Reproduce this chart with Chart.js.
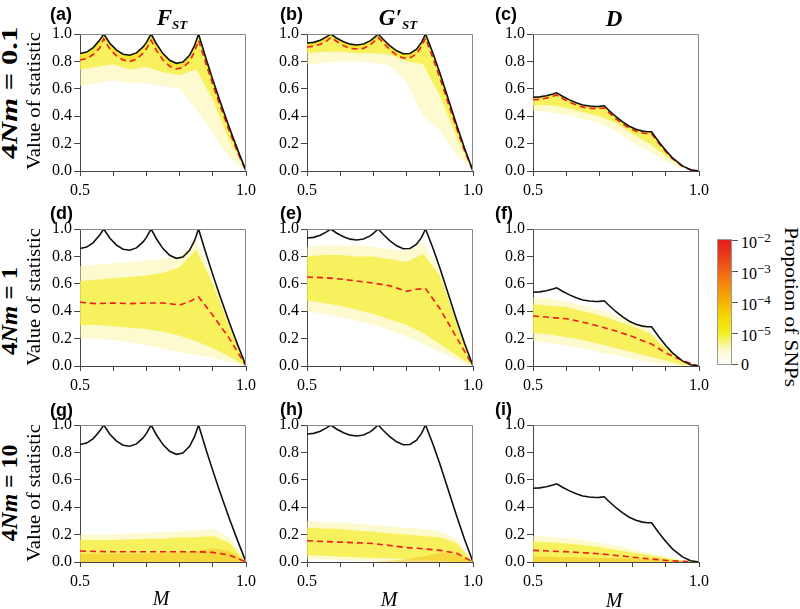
<!DOCTYPE html>
<html>
<head>
<meta charset="utf-8">
<script src="https://cdn.jsdelivr.net/npm/chart.js@4.4.1/dist/chart.umd.min.js"></script>
<style>
  body { margin: 0; width: 800px; height: 609px; position: relative; overflow: hidden; background: #fff; font-family: "Liberation Serif", serif; }
  .box { position: absolute; }
  .lab { position: absolute; font: bold 18px "Liberation Sans", Arial, sans-serif; transform: translateY(-50%); line-height: 1; }
  .ttl { position: absolute; font: bold italic 23px "Liberation Serif", serif; transform: translate(-50%, -50%); white-space: nowrap; line-height: 1; }
  .ttl sub { font-size: 13px; vertical-align: -4px; }
  .mlab { position: absolute; font: italic 20px "Liberation Serif", serif; transform: translate(-50%, -50%); line-height: 1; }
  .rot { position: absolute; white-space: nowrap; line-height: 1; transform: translate(-50%, -50%); }
  .row { font: bold 23px "Liberation Serif", serif; }
  .vos { font: 19px "Liberation Serif", serif; }
  .cb { position: absolute; left: 717px; top: 239px; width: 15px; height: 126px; box-sizing: border-box; border: 1px solid #999;
        background: linear-gradient(to top, #ffffff 0%, #fcf7c4 12%, #f3ee22 25%, #f5d200 40%, #f5b200 50%, #f38a10 63%, #ef6414 75%, #e93a18 88%, #e51e1e 100%); }
  .cbt { position: absolute; left: 732px; width: 6px; height: 1px; background: #555; }
  .cbl { position: absolute; left: 741px; font: 16px "Liberation Serif", serif; transform: translateY(-50%); line-height: 1; white-space: nowrap; }
  .cbl sup { font-size: 13px; vertical-align: 6px; }
</style>
</head>
<body>

<div class="box" style="left:40px;top:22px;width:221px;height:179px"><canvas id="pa"></canvas></div>
<div class="box" style="left:267px;top:22px;width:221px;height:179px"><canvas id="pb"></canvas></div>
<div class="box" style="left:493px;top:22px;width:221px;height:179px"><canvas id="pc"></canvas></div>
<div class="box" style="left:40px;top:217px;width:221px;height:179px"><canvas id="pd"></canvas></div>
<div class="box" style="left:267px;top:217px;width:221px;height:179px"><canvas id="pe"></canvas></div>
<div class="box" style="left:493px;top:217px;width:221px;height:179px"><canvas id="pf"></canvas></div>
<div class="box" style="left:40px;top:413px;width:221px;height:179px"><canvas id="pg"></canvas></div>
<div class="box" style="left:267px;top:413px;width:221px;height:179px"><canvas id="ph"></canvas></div>
<div class="box" style="left:493px;top:413px;width:221px;height:179px"><canvas id="pi"></canvas></div>

<div class="lab" style="left:50px;top:14px">(a)</div>
<div class="lab" style="left:280px;top:14px">(b)</div>
<div class="lab" style="left:495px;top:14px">(c)</div>
<div class="lab" style="left:50px;top:213px">(d)</div>
<div class="lab" style="left:280px;top:213px">(e)</div>
<div class="lab" style="left:495px;top:213px">(f)</div>
<div class="lab" style="left:50px;top:410px">(g)</div>
<div class="lab" style="left:280px;top:409px">(h)</div>
<div class="lab" style="left:495px;top:409px">(i)</div>

<div class="ttl" style="left:172px;top:18px">F<sub>ST</sub></div>
<div class="ttl" style="left:398px;top:18px">G′<sub>ST</sub></div>
<div class="ttl" style="left:614px;top:18px">D</div>

<div class="rot row" data-len="132" data-rot="-90" style="left:10px;top:93px">4<i>Nm</i> = 0.1</div>
<div class="rot row" data-len="88" data-rot="-90" style="left:10px;top:311px">4<i>Nm</i> = 1</div>
<div class="rot row" data-len="97" data-rot="-90" style="left:10px;top:493px">4<i>Nm</i> = 10</div>
<div class="rot vos" data-len="138" data-rot="-90" style="left:34px;top:101px">Value of statistic</div>
<div class="rot vos" data-len="138" data-rot="-90" style="left:34px;top:297px">Value of statistic</div>
<div class="rot vos" data-len="138" data-rot="-90" style="left:34px;top:493px">Value of statistic</div>

<div class="mlab" style="left:161px;top:598px">M</div>
<div class="mlab" style="left:389px;top:599px">M</div>
<div class="mlab" style="left:614px;top:600px">M</div>

<div class="cb"></div>
<div class="cbt" style="top:240px"></div>
<div class="cbt" style="top:271px"></div>
<div class="cbt" style="top:302px"></div>
<div class="cbt" style="top:333px"></div>
<div class="cbt" style="top:364px"></div>
<div class="cbl" style="top:241px">10<sup>−2</sup></div>
<div class="cbl" style="top:272px">10<sup>−3</sup></div>
<div class="cbl" style="top:303px">10<sup>−4</sup></div>
<div class="cbl" style="top:334px">10<sup>−5</sup></div>
<div class="cbl" style="top:365px">0</div>
<div class="rot vos" data-len="160" data-rot="90" style="left:790px;top:307px;font-size:18px">Propotion of SNPs</div>

<script>
// M values used for the upper bounds (and the row-1 means)
const mBound = [0.5, 0.52, 0.54, 0.56, 0.5714, 0.59, 0.61, 0.63, 0.65, 0.67, 0.69, 0.70, 0.7143,
  0.73, 0.75, 0.77, 0.79, 0.81, 0.83, 0.845, 0.8571, 0.88, 0.90, 0.92, 0.95, 0.975, 1.0];
// coarse grid for the SNP clouds
const mGrid = [0.5, 0.55, 0.6, 0.65, 0.7, 0.75, 0.8, 0.85, 0.9, 0.95, 1.0];
// grid for the means in rows 2 and 3
const mMean = [0.5, 0.55, 0.6, 0.65, 0.7, 0.75, 0.8, 0.83, 0.857, 0.9, 0.95, 1.0];

// black upper bounds
const fstMax = [0.857, 0.868, 0.901, 0.957, 1.0, 0.933, 0.882, 0.852, 0.845, 0.862, 0.906, 0.939, 1.0,
  0.929, 0.857, 0.808, 0.786, 0.795, 0.844, 0.915, 1.0, 0.818, 0.667, 0.522, 0.316, 0.154, 0];
const gstMax = [0.934, 0.939, 0.955, 0.981, 1.0, 0.969, 0.943, 0.926, 0.920, 0.927, 0.950, 0.968, 1.0,
  0.960, 0.914, 0.877, 0.856, 0.858, 0.889, 0.939, 1.0, 0.856, 0.717, 0.568, 0.342, 0.162, 0];
const dMax = [0.538, 0.541, 0.549, 0.562, 0.571, 0.544, 0.519, 0.498, 0.482, 0.474, 0.471, 0.472, 0.476,
  0.440, 0.396, 0.358, 0.327, 0.305, 0.291, 0.286, 0.286, 0.210, 0.149, 0.096, 0.037, 0.009, 0];

// red dashed means
const aMean = [0.81, 0.82, 0.85, 0.90, 0.965, 0.89, 0.84, 0.81, 0.80, 0.815, 0.86, 0.89, 0.955,
  0.88, 0.81, 0.765, 0.745, 0.755, 0.80, 0.87, 0.955, 0.78, 0.63, 0.49, 0.29, 0.135, 0];
const bMean = [0.905, 0.91, 0.925, 0.95, 0.975, 0.945, 0.915, 0.895, 0.89, 0.895, 0.92, 0.94, 0.975,
  0.935, 0.885, 0.845, 0.825, 0.825, 0.855, 0.91, 0.97, 0.82, 0.68, 0.535, 0.315, 0.145, 0];
const cMean = [0.52, 0.523, 0.532, 0.545, 0.555, 0.527, 0.502, 0.482, 0.466, 0.458, 0.455, 0.456, 0.46,
  0.424, 0.381, 0.344, 0.313, 0.291, 0.277, 0.272, 0.272, 0.198, 0.14, 0.09, 0.034, 0.008, 0];
const dMean = [0.465, 0.455, 0.46, 0.455, 0.46, 0.46, 0.445, 0.47, 0.505, 0.37, 0.2, 0];
const eMean = [0.65, 0.645, 0.635, 0.62, 0.605, 0.585, 0.545, 0.56, 0.565, 0.42, 0.21, 0];
const fMean = [0.365, 0.355, 0.345, 0.32, 0.29, 0.255, 0.215, 0.185, 0.16, 0.095, 0.04, 0];
const gMean = [0.08, 0.077, 0.075, 0.075, 0.075, 0.075, 0.075, 0.075, 0.074, 0.07, 0.05, 0];
const hMean = [0.155, 0.15, 0.145, 0.14, 0.135, 0.12, 0.105, 0.1, 0.095, 0.085, 0.065, 0];
const iMean = [0.085, 0.08, 0.075, 0.068, 0.06, 0.048, 0.035, 0.028, 0.022, 0.012, 0.005, 0];

// SNP clouds: outer (pale) and inner (dense) edges on mGrid
const aOuterLo = [0.62, 0.64, 0.66, 0.64, 0.64, 0.62, 0.60, 0.45, 0.28, 0.10, 0];
const aInnerLo = [0.74, 0.76, 0.78, 0.74, 0.76, 0.72, 0.70, 0.74, 0.52, 0.22, 0];
const bOuterLo = [0.78, 0.79, 0.80, 0.80, 0.79, 0.77, 0.65, 0.40, 0.30, 0.12, 0];
const bInnerLo = [0.86, 0.87, 0.87, 0.86, 0.86, 0.85, 0.80, 0.78, 0.55, 0.25, 0];
const cOuterLo = [0.44, 0.43, 0.41, 0.38, 0.35, 0.29, 0.21, 0.14, 0.07, 0.02, 0];
const cInnerLo = [0.48, 0.48, 0.46, 0.43, 0.40, 0.35, 0.27, 0.20, 0.11, 0.03, 0];

const dOuterHi = [0.73, 0.74, 0.75, 0.76, 0.77, 0.78, 0.80, 0.92, 0.66, 0.31, 0];
const dOuterLo = [0.20, 0.20, 0.19, 0.17, 0.15, 0.13, 0.10, 0.08, 0.06, 0.03, 0];
const dInnerHi = [0.62, 0.63, 0.64, 0.65, 0.66, 0.68, 0.72, 0.85, 0.60, 0.29, 0];
const dInnerLo = [0.30, 0.30, 0.29, 0.28, 0.27, 0.25, 0.22, 0.18, 0.13, 0.07, 0];
const eOuterHi = [0.87, 0.88, 0.88, 0.88, 0.87, 0.85, 0.84, 0.90, 0.71, 0.34, 0];
const eOuterLo = [0.40, 0.38, 0.36, 0.33, 0.30, 0.26, 0.22, 0.16, 0.10, 0.05, 0];
const eInnerHi = [0.80, 0.81, 0.81, 0.80, 0.80, 0.78, 0.76, 0.82, 0.66, 0.32, 0];
const eInnerLo = [0.48, 0.46, 0.44, 0.41, 0.38, 0.34, 0.30, 0.24, 0.16, 0.08, 0];
const fOuterHi = [0.50, 0.49, 0.47, 0.44, 0.41, 0.37, 0.32, 0.27, 0.14, 0.035, 0];
const fOuterLo = [0.18, 0.17, 0.15, 0.13, 0.10, 0.08, 0.05, 0.03, 0.01, 0, 0];
const fInnerHi = [0.45, 0.44, 0.43, 0.40, 0.37, 0.33, 0.29, 0.24, 0.13, 0.03, 0];
const fInnerLo = [0.24, 0.23, 0.21, 0.19, 0.16, 0.13, 0.10, 0.07, 0.04, 0.01, 0];

const gOuterHi = [0.20, 0.20, 0.20, 0.21, 0.21, 0.22, 0.22, 0.23, 0.24, 0.18, 0];
const gInnerHi = [0.16, 0.16, 0.16, 0.165, 0.17, 0.17, 0.18, 0.18, 0.19, 0.14, 0];
const gCoreHi = [0.06, 0.06, 0.06, 0.06, 0.06, 0.065, 0.07, 0.08, 0.10, 0.08, 0];
const hOuterHi = [0.30, 0.29, 0.29, 0.28, 0.27, 0.26, 0.25, 0.24, 0.22, 0.17, 0];
const hOuterLo = [0.02, 0.02, 0.015, 0.01, 0.01, 0.005, 0, 0, 0, 0, 0];
const hInnerHi = [0.25, 0.245, 0.24, 0.23, 0.22, 0.21, 0.20, 0.19, 0.18, 0.14, 0];
const hInnerLo = [0.05, 0.045, 0.04, 0.035, 0.03, 0.025, 0.02, 0.015, 0.01, 0, 0];
const hCoreHi = [0, 0, 0, 0, 0, 0.01, 0.02, 0.04, 0.07, 0.06, 0];
const iOuterHi = [0.19, 0.185, 0.175, 0.16, 0.14, 0.12, 0.095, 0.065, 0.04, 0.015, 0];
const iInnerHi = [0.15, 0.145, 0.135, 0.125, 0.11, 0.09, 0.07, 0.05, 0.03, 0.01, 0];
const iCoreHi = [0.04, 0.038, 0.035, 0.032, 0.03, 0.027, 0.025, 0.02, 0.015, 0.005, 0];

const PALE = "rgba(251,246,160,0.5)";
const YELLOW = "rgba(245,238,45,0.7)";
const GOLD = "rgba(245,222,10,0.5)";
const ORANGE = "rgba(245,190,25,0.5)";

Chart.defaults.font.family = "'Liberation Serif', 'Times New Roman', serif";
const tickFont = { family: "'Liberation Serif', 'Times New Roman', serif", size: 16 };

function pts(xs, ys) {
  return xs.map((x, i) => ({ x: x, y: ys[i] }));
}

const frame = {
  id: "frame",
  afterDraw(chart) {
    const a = chart.chartArea;
    const ctx = chart.ctx;
    ctx.save();
    ctx.strokeStyle = "#888";
    ctx.lineWidth = 1;
    ctx.beginPath();
    ctx.moveTo(a.left, a.top + 0.5);
    ctx.lineTo(a.right - 0.5, a.top + 0.5);
    ctx.lineTo(a.right - 0.5, a.bottom);
    ctx.stroke();
    ctx.restore();
  },
};

let charts = [];

// bands: {lo, hi, color}; hi "bound" = fill up to the black line, lo null = fill down to 0
function panel(id, bound, mean, meanX, bands, meanFill) {
  let ds = [];
  ds.push({ data: pts(mBound, bound), borderColor: "#111", borderWidth: 1.6, fill: false });
  ds.push({
    data: pts(meanX, mean), borderColor: "#ee1c1c", borderWidth: 1.6, borderDash: [6, 4],
    fill: meanFill ? 0 : false, backgroundColor: meanFill || "rgba(0,0,0,0)",
  });
  bands.forEach((b) => {
    let target = 0;
    if (b.hi !== "bound") {
      ds.push({ data: pts(mGrid, b.hi), borderColor: "rgba(0,0,0,0)", borderWidth: 0, fill: false });
      target = ds.length - 1;
    }
    if (b.lo) {
      ds.push({ data: pts(mGrid, b.lo), borderColor: "rgba(0,0,0,0)", borderWidth: 0, fill: target, backgroundColor: b.color });
    } else {
      ds[target].fill = "origin";
      ds[target].backgroundColor = b.color;
    }
  });

  let chart = new Chart(document.getElementById(id), {
    type: "line",
    data: { datasets: ds },
    plugins: [frame],
    options: {
      responsive: true,
      maintainAspectRatio: false,
      animation: false,
      layout: { padding: { top: 12, right: 14, left: 0, bottom: 0 } },
      plugins: { legend: { display: false }, tooltip: { enabled: false } },
      elements: { point: { radius: 0 }, line: { tension: 0 } },
      scales: {
        x: {
          type: "linear", min: 0.5, max: 1,
          afterFit: (s) => { s.height = 30; },
          grid: { drawOnChartArea: false, tickLength: 5, color: "#444" },
          border: { color: "#444" },
          ticks: {
            stepSize: 0.1, autoSkip: false, maxRotation: 0, padding: 5, color: "#000", font: tickFont,
            callback: (v) => (Math.abs(v - 0.5) < 1e-6 || Math.abs(v - 1) < 1e-6 ? v.toFixed(1) : ""),
          },
        },
        y: {
          min: 0, max: 1,
          afterFit: (s) => { s.width = 40; },
          grid: { drawOnChartArea: false, tickLength: 6, color: "#444" },
          border: { color: "#444" },
          ticks: { stepSize: 0.2, padding: 2, color: "#000", font: tickFont, callback: (v) => v.toFixed(1) },
        },
      },
    },
  });
  charts.push(chart);
}

panel("pa", fstMax, aMean, mBound, [
  { lo: aInnerLo, hi: "bound", color: YELLOW },
  { lo: aOuterLo, hi: "bound", color: PALE },
], GOLD);
panel("pb", gstMax, bMean, mBound, [
  { lo: bInnerLo, hi: "bound", color: YELLOW },
  { lo: bOuterLo, hi: "bound", color: PALE },
], GOLD);
panel("pc", dMax, cMean, mBound, [
  { lo: cInnerLo, hi: "bound", color: YELLOW },
  { lo: cOuterLo, hi: "bound", color: PALE },
], GOLD);

panel("pd", fstMax, dMean, mMean, [
  { lo: dInnerLo, hi: dInnerHi, color: YELLOW },
  { lo: dOuterLo, hi: dOuterHi, color: PALE },
]);
panel("pe", gstMax, eMean, mMean, [
  { lo: eInnerLo, hi: eInnerHi, color: YELLOW },
  { lo: eOuterLo, hi: eOuterHi, color: PALE },
]);
panel("pf", dMax, fMean, mMean, [
  { lo: fInnerLo, hi: fInnerHi, color: YELLOW },
  { lo: fOuterLo, hi: fOuterHi, color: PALE },
]);

panel("pg", fstMax, gMean, mMean, [
  { lo: null, hi: gCoreHi, color: ORANGE },
  { lo: null, hi: gInnerHi, color: YELLOW },
  { lo: null, hi: gOuterHi, color: PALE },
]);
panel("ph", gstMax, hMean, mMean, [
  { lo: null, hi: hCoreHi, color: ORANGE },
  { lo: hInnerLo, hi: hInnerHi, color: YELLOW },
  { lo: hOuterLo, hi: hOuterHi, color: PALE },
]);
panel("pi", dMax, iMean, mMean, [
  { lo: null, hi: iCoreHi, color: ORANGE },
  { lo: null, hi: iInnerHi, color: YELLOW },
  { lo: null, hi: iOuterHi, color: PALE },
]);

// redraw once the serif face is ready so the tick labels use it
document.fonts.load("16px 'Liberation Serif'").then(() => {
  charts.forEach((c) => c.update());
});

// stretch rotated labels to the length they have in the figure
document.querySelectorAll("[data-len]").forEach((el) => {
  let s = el.dataset.len / el.offsetWidth;
  el.style.transform = "translate(-50%, -50%) rotate(" + el.dataset.rot + "deg) scaleX(" + s + ")";
});
</script>
</body>
</html>
